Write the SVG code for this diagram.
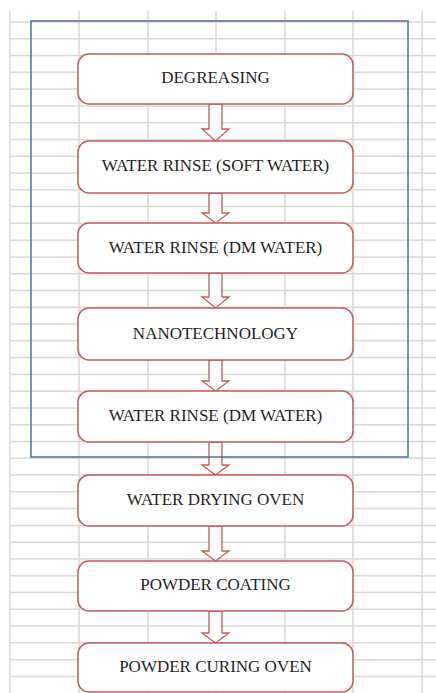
<svg xmlns="http://www.w3.org/2000/svg" width="436" height="693" viewBox="0 0 436 693">
<style>
.grid{stroke:#d9d9d9;stroke-width:1.5;fill:none}
.box{fill:#ffffff;stroke:#c9585a;stroke-width:1.5}
.arr{fill:#ffffff;stroke:#c9585a;stroke-width:1.3;stroke-linejoin:miter}
.lbl{font-size:17px;fill:#1f1f1f;text-anchor:middle}
.frame{fill:none;stroke:#4f6f9d;stroke-width:1.5}
</style>
<rect width="436" height="693" fill="#ffffff"/>
<g id="grid" class="grid">
<path d="M10,11V693M79,11V693M148,11V693M216,11V693M285,11V693M353,11V693M422,11V693"/>
<path d="M10,22H436M10,38.78H436M10,55.56H436M10,72.34H436M10,89.12H436M10,105.9H436M10,122.68H436M10,139.46H436M10,156.24H436M10,173.02H436M10,189.8H436M10,206.58H436M10,223.36H436M10,240.14H436M10,256.92H436M10,273.7H436M10,290.48H436M10,307.26H436M10,324.04H436M10,340.82H436M10,357.6H436M10,374.38H436M10,391.16H436M10,407.94H436M10,424.72H436M10,441.5H436M10,458.28H436M10,475.06H436M10,491.84H436M10,508.62H436M10,525.4H436M10,542.18H436M10,558.96H436M10,575.74H436M10,592.52H436M10,609.3H436M10,626.08H436M10,642.86H436M10,659.64H436M10,676.42H436"/>
</g>
<g id="connectors">
<path class="arr" d="M209,104V129H202L215.5,141L229,129H222V104Z"/>
<path class="arr" d="M209,193V213H202L215.5,223L229,213H222V193Z"/>
<path class="arr" d="M209,273V297H202L215.5,308L229,297H222V273Z"/>
<path class="arr" d="M209,360V381H202L215.5,391L229,381H222V360Z"/>
<path class="arr" d="M209,442V465H202L215.5,475L229,465H222V442Z"/>
<path class="arr" d="M209,526V551H202L215.5,561L229,551H222V526Z"/>
<path class="arr" d="M209,611V633H202L215.5,643L229,633H222V611Z"/>
</g>
<g font-family="'Liberation Serif', 'DejaVu Serif', serif">
<g id="n1"><rect class="box" x="78" y="54" width="275" height="50" rx="11"/><text class="lbl" x="215.5" y="83">DEGREASING</text></g>
<g id="n2"><rect class="box" x="78" y="141" width="275" height="52" rx="11"/><text class="lbl" x="215.5" y="171">WATER RINSE (SOFT WATER)</text></g>
<g id="n3"><rect class="box" x="78" y="223" width="275" height="50" rx="11"/><text class="lbl" x="215.5" y="253">WATER RINSE (DM WATER)</text></g>
<g id="n4"><rect class="box" x="78" y="308" width="275" height="52" rx="11"/><text class="lbl" x="215.5" y="339">NANOTECHNOLOGY</text></g>
<g id="n5"><rect class="box" x="78" y="391" width="275" height="51" rx="11"/><text class="lbl" x="215.5" y="421">WATER RINSE (DM WATER)</text></g>
<g id="n6"><rect class="box" x="78" y="475" width="275" height="51" rx="11"/><text class="lbl" x="215.5" y="505">WATER DRYING OVEN</text></g>
<g id="n7"><rect class="box" x="78" y="561" width="275" height="50" rx="11"/><text class="lbl" x="215.5" y="590">POWDER COATING</text></g>
<g id="n8"><rect class="box" x="78" y="643" width="275" height="49" rx="11"/><text class="lbl" x="215.5" y="672">POWDER CURING OVEN</text></g>
</g>
<g id="frame"><rect class="frame" x="31" y="21" width="377" height="436"/></g>
</svg>
